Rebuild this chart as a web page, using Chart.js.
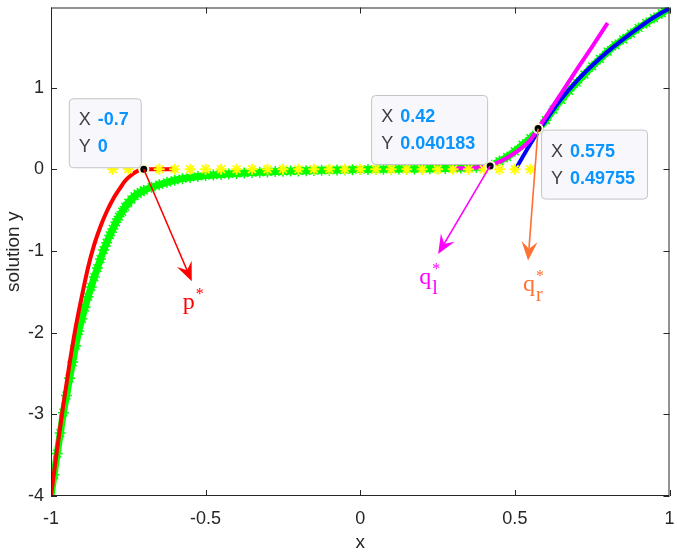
<!DOCTYPE html>
<html><head><meta charset="utf-8">
<script src="https://cdn.jsdelivr.net/npm/chart.js@4.4.1/dist/chart.umd.min.js"></script>
<style>html,body{margin:0;padding:0;background:#fff}#wrap{width:677px;height:552px}</style>
</head><body>
<div id="wrap"><canvas id="c"></canvas></div>
<script>
/* solution y vs x — exact (green *), pieces near p*, q_l*, q_r* + datatips */

var xTicks = [-1, -0.5, 0, 0.5, 1];
var yTicks = [-4, -3, -2, -1, 0, 1];

// green * : exact solution
var exactX = [-1,-0.99,-0.98,-0.97,-0.96,-0.95,-0.94,-0.93,-0.92,-0.91,-0.9,-0.89,-0.88,-0.87,-0.86,-0.85,
  -0.84,-0.83,-0.82,-0.81,-0.8,-0.79,-0.78,-0.77,-0.76,-0.75,-0.74,-0.73,-0.72,-0.71,-0.7,
  -0.675,-0.65,-0.625,-0.6,-0.575,-0.55,-0.525,-0.5,-0.475,-0.45,-0.425,-0.4,-0.375,-0.35,-0.325,-0.3,
  -0.275,-0.25,-0.225,-0.2,-0.175,-0.15,-0.125,-0.1,-0.075,-0.05,-0.025,0,0.025,0.05,0.075,0.1,0.125,
  0.15,0.175,0.2,0.225,0.25,0.275,0.3,0.325,0.35,0.375,0.4,0.425,0.45,0.475,0.5,0.525,0.55,0.575,0.6,
  0.625,0.65,0.675,0.7,0.725,0.75,0.775,0.8,0.825,0.85,0.875,0.9,0.925,0.95,0.975,1];
var exactY = [-4,-3.74,-3.48,-3.23,-2.98,-2.77,-2.56,-2.36,-2.16,-1.98,-1.83,-1.69,-1.56,-1.44,-1.32,-1.21,
  -1.1,-0.99,-0.9,-0.81,-0.73,-0.65,-0.58,-0.52,-0.46,-0.41,-0.37,-0.33,-0.3,-0.28,-0.26,
  -0.22,-0.19,-0.16,-0.135,-0.115,-0.1,-0.088,-0.078,-0.07,-0.063,-0.057,-0.051,-0.046,-0.041,-0.037,-0.033,
  -0.029,-0.026,-0.023,-0.02,-0.018,-0.015,-0.013,-0.011,-0.009,-0.007,-0.005,-0.003,-0.002,-0.001,0,0.001,0.002,
  0.003,0.004,0.005,0.006,0.008,0.01,0.012,0.015,0.019,0.025,0.034,0.05,0.1,0.15,0.22,0.3,0.38,0.48,0.6,
  0.73,0.85,0.96,1.06,1.16,1.26,1.35,1.44,1.52,1.59,1.66,1.73,1.79,1.85,1.91,1.97];

// yellow * : zero state
var zeroX = [-0.8,-0.75,-0.7,-0.65,-0.6,-0.55,-0.5,-0.45,-0.4,-0.35,-0.3,-0.25,-0.2,-0.15,
  -0.1,-0.05,0,0.05,0.1,0.15,0.2,0.25,0.3,0.35,0.4,0.45,0.5,0.55];
var zeroY = [0,0,0,0,0,0,0,0,0,0,0,0,0,0,0,0,0,0,0,0,0,0,0,0,0,0,0,0];

// red : left branch up to p*
var leftX = [-1,-0.98,-0.96,-0.94,-0.92,-0.9,-0.88,-0.86,-0.84,-0.82,-0.8,-0.78,-0.76,-0.74,-0.72,-0.7,-0.65,-0.6];
var leftY = [-4,-3.42,-2.88,-2.38,-1.93,-1.55,-1.2,-0.92,-0.7,-0.52,-0.37,-0.25,-0.14,-0.07,-0.02,0,0,0];

// magenta : through q_l*
var qlX = [0.3,0.35,0.4,0.42,0.45,0.5,0.55,0.575,0.6,0.65,0.7,0.75,0.8];
var qlY = [0.01,0.015,0.03,0.045,0.09,0.2,0.36,0.5,0.64,0.93,1.22,1.5,1.79];

// blue : from q_r*
var qrX = [0.505,0.55,0.575,0.6,0.65,0.7,0.75,0.8,0.85,0.9,0.95,1];
var qrY = [0.02,0.31,0.46,0.6,0.86,1.08,1.27,1.44,1.59,1.73,1.86,1.97];

// datatips
var tipX = [-0.7, 0.42, 0.575];
var tipY = [0, 0.040183, 0.49755];
var tipName = ['p', 'q', 'q'];
var tipSub = ['', 'l', 'r'];

var C_AX = '#262626';
var C_ARROW = ['#ff0000', '#ff00ff', '#ff7033'];
var ARROW_D = [[48,112], [-52,88], [-10,132]];   // arrow end, px from the point
var LABEL_D = [[-9,28], [-19,30], [-5,30]];      // label start, px from arrow end
var TIP_SIDE = [-1, -1, 1];                      // -1 box up-left, 1 box down-right
var SANS = '"Liberation Sans", Arial, Helvetica, sans-serif';
var SERIF = '"Liberation Serif", "Times New Roman", serif';

function pts(xs, ys){ return xs.map(function(x, i){ return {x:x, y:ys[i]}; }); }

function arrow(ctx, x0, y0, x1, y1, col){
  var a = Math.atan2(y1-y0, x1-x0), L = 19, W = 8, N = 12;
  ctx.strokeStyle = col; ctx.fillStyle = col; ctx.lineWidth = 1.6;
  ctx.beginPath(); ctx.moveTo(x0, y0);
  ctx.lineTo(x1 - N*Math.cos(a), y1 - N*Math.sin(a)); ctx.stroke();
  ctx.save(); ctx.translate(x1, y1); ctx.rotate(a);
  ctx.beginPath(); ctx.moveTo(0, 0); ctx.lineTo(-L, -W); ctx.lineTo(-N, 0); ctx.lineTo(-L, W);
  ctx.closePath(); ctx.fill();
  ctx.restore();
}

function label(ctx, x, y, main, sub, col){
  ctx.fillStyle = col; ctx.textAlign = 'left'; ctx.textBaseline = 'alphabetic';
  ctx.font = '24px ' + SERIF;
  ctx.fillText(main, x, y);
  var w = ctx.measureText(main).width;
  ctx.font = '16px ' + SERIF;
  ctx.fillText('*', x + w + 1, y - 10);
  if(sub){ ctx.font = '20px ' + SERIF; ctx.fillText(sub, x + w + 1, y + 10); }
}

function roundRect(ctx, x, y, w, h, r){
  ctx.beginPath();
  ctx.moveTo(x+r, y); ctx.lineTo(x+w-r, y); ctx.quadraticCurveTo(x+w, y, x+w, y+r);
  ctx.lineTo(x+w, y+h-r); ctx.quadraticCurveTo(x+w, y+h, x+w-r, y+h);
  ctx.lineTo(x+r, y+h); ctx.quadraticCurveTo(x, y+h, x, y+h-r);
  ctx.lineTo(x, y+r); ctx.quadraticCurveTo(x, y, x+r, y);
  ctx.closePath();
}

function datatip(ctx, px, py, i){
  var val = [String(tipX[i]), String(tipY[i])];
  ctx.font = 'bold 18px ' + SANS;
  var vw = Math.max(ctx.measureText(val[0]).width, ctx.measureText(val[1]).width);
  var w = Math.round(29 + vw + 12), h = 69;
  var bx = TIP_SIDE[i] > 0 ? px + 3 : px - 3 - w;
  var by = TIP_SIDE[i] > 0 ? py + 1 : py - 2 - h;
  roundRect(ctx, bx + 0.5, by + 0.5, w, h, 4);
  ctx.fillStyle = '#f8f8fc'; ctx.fill();
  ctx.strokeStyle = '#c4c4c4'; ctx.lineWidth = 1; ctx.stroke();
  ctx.textBaseline = 'middle'; ctx.textAlign = 'left';
  ['X', 'Y'].forEach(function(l, k){
    var ty = by + 22 + k*27;
    ctx.font = '18px ' + SANS; ctx.fillStyle = '#404040';
    ctx.fillText(l, bx + 10, ty);
    ctx.font = 'bold 18px ' + SANS; ctx.fillStyle = '#0a94ff';
    ctx.fillText(val[k], bx + 29, ty);
  });
}

/* ---------- box, inward ticks, arrows, datatips ---------- */
var marks = {
  id: 'marks',
  afterDatasetsDraw: function(ch){
    var ctx = ch.ctx, a = ch.chartArea, sx = ch.scales.x, sy = ch.scales.y;
    ctx.save();
    ctx.strokeStyle = C_AX; ctx.lineWidth = 1;
    ctx.strokeRect(a.left + 0.5, a.top + 0.5, a.right - a.left - 1, a.bottom - a.top - 1);
    ctx.beginPath();
    xTicks.forEach(function(v){
      var p = Math.round(sx.getPixelForValue(v)) + 0.5;
      ctx.moveTo(p, a.bottom); ctx.lineTo(p, a.bottom - 6);
      ctx.moveTo(p, a.top); ctx.lineTo(p, a.top + 6);
    });
    yTicks.forEach(function(v){
      var p = Math.round(sy.getPixelForValue(v)) + 0.5;
      ctx.moveTo(a.left, p); ctx.lineTo(a.left + 6, p);
      ctx.moveTo(a.right, p); ctx.lineTo(a.right - 6, p);
    });
    ctx.stroke();

    tipX.forEach(function(x, i){
      var px = sx.getPixelForValue(x), py = sy.getPixelForValue(tipY[i]);
      var ex = px + ARROW_D[i][0], ey = py + ARROW_D[i][1];
      arrow(ctx, px, py, ex, ey, C_ARROW[i]);
      label(ctx, ex + LABEL_D[i][0], ey + LABEL_D[i][1], tipName[i], tipSub[i], C_ARROW[i]);
    });
    tipX.forEach(function(x, i){
      datatip(ctx, sx.getPixelForValue(x), sy.getPixelForValue(tipY[i]), i);
    });
    ctx.restore();
  }
};

function line(data, col, width, order){
  return { data:data, showLine:true, borderColor:col, borderWidth:width, pointRadius:0,
    cubicInterpolationMode:'monotone', order:order };
}

var exactSet = line(pts(exactX, exactY), '#00ff00', 7, 6);
exactSet.pointStyle = 'star'; exactSet.pointRadius = 5.5; exactSet.pointBorderColor = '#00ff00';
exactSet.pointBorderWidth = 1.5;

new Chart(document.getElementById('c'), {
  type: 'scatter',
  data: { datasets: [
    { data: pts(tipX, tipY), pointRadius:4.5, pointBackgroundColor:'#000', pointBorderColor:'#fffbe0',
      pointBorderWidth:2, order:0 },
    { data: pts(zeroX, zeroY), pointStyle:'star', pointRadius:5.5, pointBorderColor:'#ffff00',
      pointBorderWidth:2, order:1 },
    line(pts(leftX, leftY), '#ff0000', 4, 2),
    line(pts(qlX, qlY), '#ff00ff', 4, 3),
    line(pts(qrX, qrY), '#0000ff', 4, 4),
    exactSet
  ] },
  options: {
    responsive:true, maintainAspectRatio:false, animation:false,
    layout: { padding: { top:5, right:5, left:0, bottom:0 } },
    plugins: { legend:{display:false}, tooltip:{enabled:false} },
    scales: {
      x: { type:'linear', min:-1, max:1,
        afterBuildTicks: function(s){ s.ticks = xTicks.map(function(v){ return {value:v}; }); },
        afterFit: function(s){ s.height = 56; s.paddingLeft = 0; s.paddingRight = 0; },
        grid: { drawOnChartArea:false, drawTicks:false },
        border: { display:false },
        ticks: { color:C_AX, padding:12, font:{family:SANS, size:18}, maxRotation:0,
          callback: function(v){ return String(v); } },
        title: { display:true, text:'x', color:C_AX, font:{family:SANS, size:19, lineHeight:1}, padding:0 } },
      y: { type:'linear', min:-4, max:1.98,
        afterBuildTicks: function(s){ s.ticks = yTicks.map(function(v){ return {value:v}; }); },
        afterFit: function(s){ s.width = 51; s.paddingTop = 0; s.paddingBottom = 0; },
        grid: { drawOnChartArea:false, drawTicks:false },
        border: { display:false },
        ticks: { color:C_AX, padding:7, font:{family:SANS, size:18},
          callback: function(v){ return String(v); } },
        title: { display:true, text:'solution y', color:C_AX, font:{family:SANS, size:19, lineHeight:1},
          padding:{top:4, bottom:0} } }
    }
  },
  plugins: [marks]
});
</script>
</body></html>
